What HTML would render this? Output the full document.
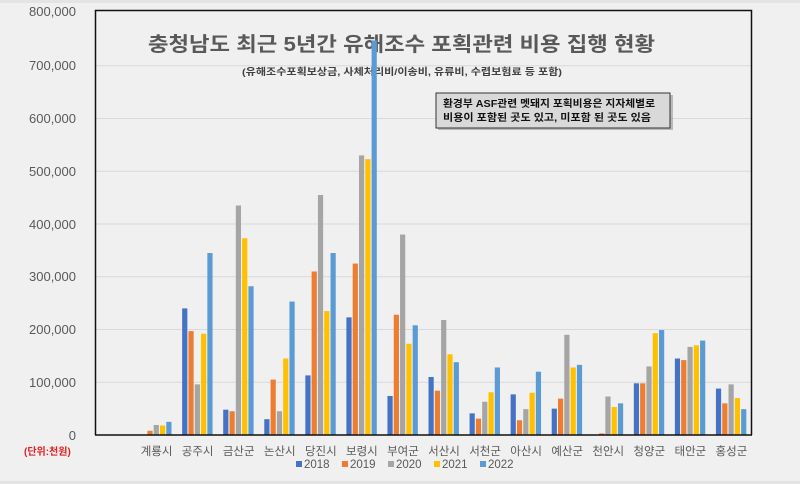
<!DOCTYPE html>
<html><head><meta charset="utf-8"><style>
html,body{margin:0;padding:0;background:#f0f0f0;}
svg{display:block;font-family:"Liberation Sans","Noto Sans CJK KR",sans-serif;}
</style></head><body>
<svg width="800" height="484" viewBox="0 0 800 484" xmlns="http://www.w3.org/2000/svg">
<rect width="800" height="484" fill="#f0f0f0"/>
<rect x="0" y="0" width="800" height="3" fill="#e4e4e4"/>
<rect x="0" y="481" width="800" height="3" fill="#e4e4e4"/>
<g stroke="#d9d9d9" stroke-width="1">
<line x1="95" x2="752" y1="382.25" y2="382.25"/>
<line x1="95" x2="752" y1="329.5" y2="329.5"/>
<line x1="95" x2="752" y1="276.75" y2="276.75"/>
<line x1="95" x2="752" y1="224" y2="224"/>
<line x1="95" x2="752" y1="171.25" y2="171.25"/>
<line x1="95" x2="752" y1="118.5" y2="118.5"/>
<line x1="95" x2="752" y1="65.75" y2="65.75"/>
</g>
<g font-size="13" fill="#595959" text-anchor="end">
<text x="76" y="440">0</text>
<text x="76" y="387">100,000</text>
<text x="76" y="334">200,000</text>
<text x="76" y="281">300,000</text>
<text x="76" y="229">400,000</text>
<text x="76" y="176">500,000</text>
<text x="76" y="123">600,000</text>
<text x="76" y="70">700,000</text>
<text x="76" y="16">800,000</text>
</g>
<text x="24" y="455" font-size="10" font-weight="bold" fill="#e02020">(단위:천원)</text>
<path d="M95.5 435 V10.5 H751.5 V435" fill="none" stroke="#111" stroke-width="1.5"/>
<text x="148" y="51" font-size="20" font-weight="bold" fill="#595959" textLength="507" lengthAdjust="spacingAndGlyphs">충청남도 최근 5년간 유해조수 포획관련 비용 집행 현황</text>
<text x="242" y="75" font-size="9.5" font-weight="bold" fill="#404040" textLength="320" lengthAdjust="spacingAndGlyphs">(유해조수포획보상금, 사체처리비/이송비, 유류비, 수렵보험료 등 포함)</text>
<rect x="438" y="95" width="235" height="35" fill="#555" opacity="0.35"/>
<rect x="436" y="93" width="234" height="35" fill="#d9d9d9" stroke="#333" stroke-width="1"/>
<text x="443" y="107" font-size="10" font-weight="bold" fill="#111" textLength="212" lengthAdjust="spacingAndGlyphs">환경부 ASF관련 멧돼지 포획비용은 지자체별로</text>
<text x="443" y="121" font-size="10" font-weight="bold" fill="#111" textLength="208" lengthAdjust="spacingAndGlyphs">비용이 포함된 곳도 있고, 미포함 된 곳도 있음</text>
<g id="bars"></g>
<line x1="95" x2="752" y1="435" y2="435" stroke="#111" stroke-width="1.5"/>
<g font-size="11.5" fill="#595959" text-anchor="middle" id="labels"></g>
<g font-size="11.5" fill="#595959">
<rect x="296" y="461" width="6" height="6" fill="#4472C4"/><text x="304" y="468">2018</text>
<rect x="342" y="461" width="6" height="6" fill="#ED7D31"/><text x="350" y="468">2019</text>
<rect x="388" y="461" width="6" height="6" fill="#A5A5A5"/><text x="396" y="468">2020</text>
<rect x="434" y="461" width="6" height="6" fill="#FFC000"/><text x="442" y="468">2021</text>
<rect x="480" y="461" width="6" height="6" fill="#5B9BD5"/><text x="488" y="468">2022</text>
</g>
</svg>
<script>
var names=["계룡시","공주시","금산군","논산시","당진시","보령시","부여군","서산시","서천군","아산시","예산군","천안시","청양군","태안군","홍성군"];
var d=[[0,8,19,18,25],[240,197,96,192,345],[48,45,435,373,282],[30,105,45,145,253],[113,310,455,235,345],[223,325,530,523,748],[74,228,380,173,208],[110,84,218,153,138],[41,31,63,81,128],[77,28,49,80,120],[50,69,190,128,133],[0,3,73,53,60],[98,98,130,193,199],[145,142,167,170,179],[88,60,96,70,49]];
var c=["#4472C4","#ED7D31","#A5A5A5","#FFC000","#5B9BD5"];
var ns="http://www.w3.org/2000/svg",g=document.getElementById("bars"),lg=document.getElementById("labels");
for(var i=0;i<15;i++){var cx=95+41.06*(i+1.5);
for(var j=0;j<5;j++){var v=d[i][j];if(!v)continue;var h=v*0.5275;var r=document.createElementNS(ns,"rect");
r.setAttribute("x",cx-15.5+j*6.3);r.setAttribute("width",5.2);r.setAttribute("y",435-h);r.setAttribute("height",h);r.setAttribute("fill",c[j]);g.appendChild(r);}
var t=document.createElementNS(ns,"text");t.setAttribute("x",cx);t.setAttribute("y",455);t.textContent=names[i];lg.appendChild(t);}
</script>
</body></html>
